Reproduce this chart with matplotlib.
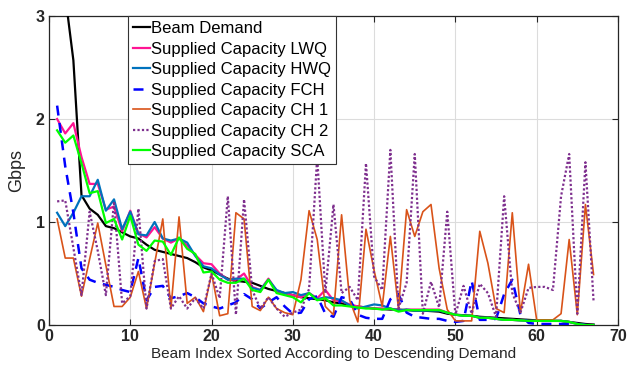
import matplotlib
matplotlib.use("Agg")
import matplotlib.pyplot as plt
import numpy as np

plt.rcParams['font.family'] = ['Liberation Sans', 'DejaVu Sans']

beam_index = list(range(1, 68))

demand = [4.6, 3.2, 2.57, 1.26, 1.13, 1.07, 0.96, 0.94, 0.90, 0.86,
          0.84, 0.78, 0.73, 0.71, 0.69, 0.67, 0.65, 0.61, 0.56, 0.53,
          0.49, 0.45, 0.43, 0.42, 0.41, 0.38, 0.35, 0.33, 0.31, 0.29,
          0.27, 0.26, 0.25, 0.24, 0.22, 0.21, 0.19, 0.18, 0.17, 0.16,
          0.155, 0.15, 0.15, 0.145, 0.14, 0.14, 0.135, 0.13, 0.11, 0.10,
          0.095, 0.09, 0.08, 0.075, 0.07, 0.065, 0.06, 0.055, 0.05, 0.045,
          0.045, 0.04, 0.04, 0.03, 0.02, 0.01, 0.005]

lwq = [2.00, 1.86, 1.96, 1.63, 1.37, 1.37, 1.12, 1.15, 0.91, 1.11,
       0.89, 0.85, 0.95, 0.84, 0.80, 0.84, 0.77, 0.68, 0.60, 0.59,
       0.50, 0.44, 0.44, 0.50, 0.37, 0.34, 0.45, 0.33, 0.31, 0.29,
       0.27, 0.31, 0.26, 0.34, 0.24, 0.23, 0.20, 0.18, 0.17, 0.16,
       0.16, 0.16, 0.14, 0.15, 0.15, 0.15, 0.15, 0.15, 0.12, 0.10,
       0.09, 0.09, 0.07, 0.07, 0.06, 0.05, 0.05, 0.045, 0.04, 0.04,
       0.04, 0.04, 0.04, 0.03, 0.01, 0.0, 0.0]

hwq = [1.09, 0.96, 1.09, 1.25, 1.25, 1.41, 1.11, 1.22, 0.93, 1.10,
       0.88, 0.87, 1.00, 0.84, 0.82, 0.84, 0.80, 0.67, 0.57, 0.55,
       0.49, 0.44, 0.45, 0.45, 0.36, 0.34, 0.44, 0.34, 0.31, 0.32,
       0.29, 0.31, 0.25, 0.27, 0.26, 0.24, 0.19, 0.16, 0.18, 0.20,
       0.19, 0.16, 0.14, 0.15, 0.14, 0.14, 0.14, 0.14, 0.12, 0.10,
       0.09, 0.09, 0.07, 0.07, 0.06, 0.05, 0.05, 0.045, 0.04, 0.04,
       0.04, 0.04, 0.04, 0.03, 0.01, 0.0, 0.0]

fch = [2.13, 1.54, 1.09, 0.55, 0.44, 0.41, 0.39, 0.37, 0.34, 0.32,
       0.65, 0.24, 0.37, 0.38, 0.26, 0.28, 0.31, 0.27, 0.21, 0.18,
       0.16, 0.19, 0.22, 0.30, 0.25, 0.16, 0.22, 0.27, 0.18, 0.11,
       0.12, 0.25, 0.28, 0.11, 0.08, 0.27, 0.25, 0.10, 0.07, 0.06,
       0.06, 0.25, 0.30, 0.12, 0.08, 0.07, 0.06, 0.06, 0.04, 0.03,
       0.04, 0.43, 0.05, 0.05, 0.06, 0.30, 0.44, 0.10, 0.02, 0.01,
       0.01, 0.01, 0.01, 0.01, 0.01, 0.0, 0.0]

ch1 = [1.03, 0.65, 0.65, 0.28, 0.64, 0.99, 0.58, 0.18, 0.18, 0.27,
       0.52, 0.16, 0.60, 1.03, 0.16, 1.05, 0.21, 0.27, 0.13, 0.50,
       0.09, 0.11, 1.09, 1.03, 0.18, 0.14, 0.27, 0.16, 0.12, 0.10,
       0.44, 1.11, 0.83, 0.18, 0.10, 1.07, 0.24, 0.03, 0.93, 0.53,
       0.18, 0.86, 0.16, 1.12, 0.86, 1.10, 1.17, 0.55, 0.15, 0.04,
       0.04, 0.04, 0.91, 0.60, 0.16, 0.12, 1.09, 0.12, 0.59, 0.05,
       0.05, 0.05, 0.11, 0.83, 0.10, 1.17, 0.49]

ch2 = [1.20, 1.21, 0.75, 0.29, 1.10, 0.72, 0.29, 1.20, 0.21, 0.28,
       1.13, 0.16, 0.62, 0.64, 0.16, 0.28, 0.16, 0.26, 0.16, 0.50,
       0.26, 1.25, 0.10, 1.22, 0.34, 0.16, 0.27, 0.16, 0.08, 0.12,
       0.15, 0.35, 1.63, 0.31, 1.17, 0.31, 0.37, 0.24, 1.57, 0.47,
       0.34, 1.70, 0.16, 0.41, 1.66, 0.11, 0.42, 0.17, 1.10, 0.10,
       0.38, 0.11, 0.40, 0.31, 0.08, 1.25, 0.31, 0.12, 0.36, 0.37,
       0.37, 0.34, 1.25, 1.66, 0.11, 1.58, 0.23]

sca = [1.89, 1.77, 1.84, 1.57, 1.28, 1.30, 0.99, 1.03, 0.83, 1.06,
       0.78, 0.72, 0.82, 0.81, 0.68, 0.85, 0.74, 0.69, 0.51, 0.52,
       0.44, 0.41, 0.41, 0.45, 0.34, 0.32, 0.44, 0.31, 0.29, 0.27,
       0.22, 0.31, 0.24, 0.26, 0.19, 0.19, 0.18, 0.17, 0.16, 0.16,
       0.15, 0.16, 0.13, 0.145, 0.145, 0.145, 0.145, 0.145, 0.12, 0.10,
       0.09, 0.09, 0.07, 0.07, 0.06, 0.05, 0.05, 0.045, 0.04, 0.04,
       0.04, 0.04, 0.04, 0.03, 0.01, 0.0, 0.0]

labels = ["Beam Demand", "Supplied Capacity LWQ", "Supplied Capacity HWQ",
          "Supplied Capacity FCH", "Supplied Capacity CH 1",
          "Supplied Capacity CH 2", "Supplied Capacity SCA"]

fig = plt.figure(figsize=(6.28, 3.67), dpi=100)
ax = fig.add_axes([0.078, 0.1144, 0.906, 0.842])

ax.plot(beam_index, demand, color='black', lw=1.6, label=labels[0], zorder=3)
ax.plot(beam_index, lwq, color='#FF1493', lw=1.6, label=labels[1], zorder=3)
ax.plot(beam_index, hwq, color='#0072BD', lw=1.6, label=labels[2], zorder=3)
ax.plot(beam_index, fch, color='#0000FF', lw=1.8, ls=(0, (4, 3)), label=labels[3], zorder=3)
ax.plot(beam_index, ch1, color='#D95319', lw=1.2, label=labels[4], zorder=3)
ax.plot(beam_index, ch2, color='#7E2F8E', lw=1.6, ls=(0, (1, 1)), label=labels[5], zorder=3)
ax.plot(beam_index, sca, color='#00FF00', lw=1.6, label=labels[6], zorder=3)

ax.set_xlim(0, 70)
ax.set_ylim(0, 3)
ax.set_xticks(np.arange(0, 71, 10))
ax.set_yticks([0, 1, 2, 3])
ax.grid(True, color='#dcdcdc', lw=0.8, zorder=0)
ax.set_axisbelow(True)
ax.tick_params(direction='in', length=4, width=0.8, top=True, right=True,
               labelsize=11.5, pad=3, colors='#262626')
for lab in ax.get_xticklabels() + ax.get_yticklabels():
    lab.set_fontweight('bold')
for s in ax.spines.values():
    s.set_color('#262626')
    s.set_linewidth(0.9)

ax.set_xlabel("Beam Index Sorted According to Descending Demand", fontsize=11, labelpad=2, color='#262626')
ax.set_ylabel("Gbps", fontsize=13, color='#262626')
ax.yaxis.set_label_coords(-0.042, 0.5)

leg = ax.legend(loc='upper left', bbox_to_anchor=(0.139, 1.0), borderaxespad=0,
                fontsize=12, handlelength=1.0, handletextpad=0.05,
                labelspacing=0.33, borderpad=0.3, fancybox=False,
                framealpha=1, edgecolor='#333333')
leg.get_frame().set_linewidth(0.8)

fig.savefig("out.png", dpi=100)
